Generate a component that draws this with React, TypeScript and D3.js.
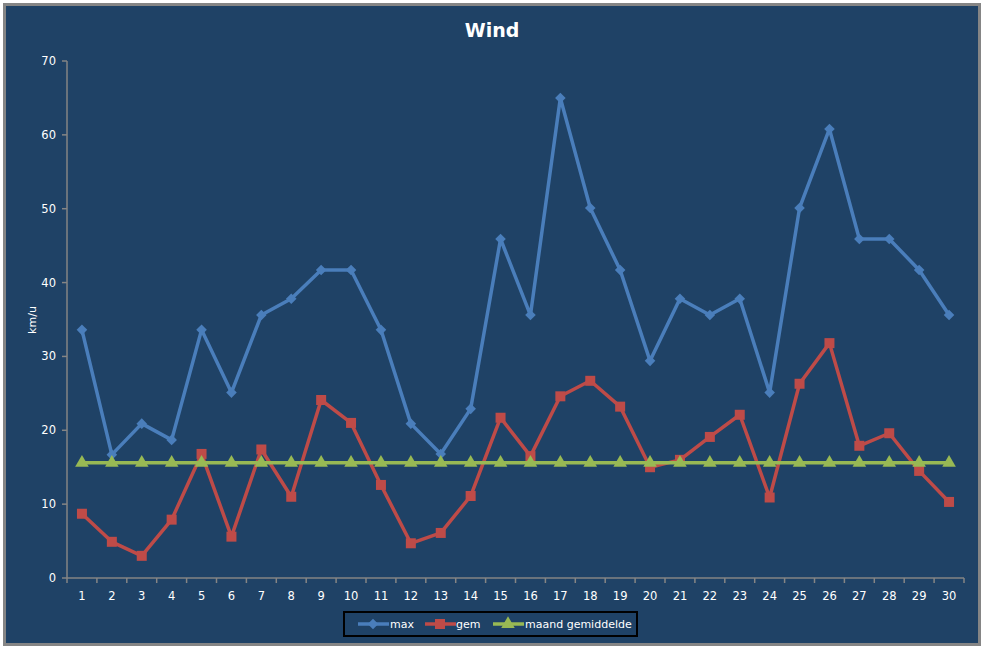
import React from 'react';
import * as d3 from 'd3';

const days = d3.range(1, 31).map(String);

const maxWind = [
  33.6, 16.7, 20.9, 18.7, 33.6, 25.1, 35.6, 37.8, 41.7, 41.7,
  33.6, 20.9, 16.8, 22.9, 45.9, 35.6, 65.0, 50.1, 41.7, 29.4,
  37.8, 35.6, 37.8, 25.1, 50.1, 60.8, 45.9, 45.9, 41.7, 35.6,
];

const gemWind = [
  8.7, 4.9, 3.0, 7.9, 16.8, 5.6, 17.4, 11.0, 24.1, 21.0,
  12.6, 4.7, 6.1, 11.1, 21.7, 16.5, 24.6, 26.7, 23.2, 15.0,
  16.0, 19.1, 22.1, 10.9, 26.3, 31.8, 17.9, 19.6, 14.5, 10.3,
];

const maandGem = [
  15.6, 15.6, 15.6, 15.6, 15.6, 15.6, 15.6, 15.6, 15.6, 15.6,
  15.6, 15.6, 15.6, 15.6, 15.6, 15.6, 15.6, 15.6, 15.6, 15.6,
  15.6, 15.6, 15.6, 15.6, 15.6, 15.6, 15.6, 15.6, 15.6, 15.6,
];

const yTicks = [0, 10, 20, 30, 40, 50, 60, 70];

const W = 987;
const H = 648;
const bg = '#1F4266';
const axisColor = '#858585';
const font = '"DejaVu Sans", Verdana, sans-serif';

const series = [
  { name: 'max', values: maxWind, color: '#4A7EBB', marker: 'diamond' },
  { name: 'gem', values: gemWind, color: '#BE4B48', marker: 'square' },
  { name: 'maand gemiddelde', values: maandGem, color: '#98B954', marker: 'triangle' },
];

// diamond is drawn as a square turned 45 degrees, like the spreadsheet marker
const symbolFor = (m: string) =>
  m === 'diamond'
    ? d3.symbol(d3.symbolSquare, 56)
    : m === 'square'
    ? d3.symbol(d3.symbolSquare, 100)
    : d3.symbol(d3.symbolTriangle, 80);

const rot = (m: string) => (m === 'diamond' ? ' rotate(45)' : '');

const App: React.FC = () => {
  const x = d3.scaleBand<string>().domain(days).range([67, 964]);
  const y = d3.scaleLinear().domain([0, 70]).range([578, 61]);
  const cx = (d: string) => (x(d) ?? 0) + x.bandwidth() / 2;

  const line = d3
    .line<number>()
    .x((_, i) => cx(days[i]))
    .y((v) => y(v));

  const legendItems = [
    { s: series[0], lx: 358, tx: 390 },
    { s: series[1], lx: 425, tx: 456 },
    { s: series[2], lx: 493, tx: 525 },
  ];

  return (
    <svg
      width={W}
      height={H}
      style={{ position: 'absolute', left: 0, top: 0, background: '#fff' }}
    >
      <rect x={4.5} y={4.5} width={975} height={640} fill={bg} stroke={axisColor} strokeWidth={3} />

      <text x={492} y={37} textAnchor="middle" fill="#fff" fontFamily={font} fontWeight="bold" fontSize={19}>
        Wind
      </text>

      <text
        transform="translate(36,320) rotate(-90)"
        textAnchor="middle"
        fill="#fff"
        fontFamily={font}
        fontSize={11}
      >
        km/u
      </text>

      {/* y axis */}
      <line x1={67} x2={67} y1={y(70)} y2={y(0)} stroke={axisColor} strokeWidth={1.5} />
      {yTicks.map((t) => (
        <g key={t}>
          <line x1={62} x2={67} y1={y(t)} y2={y(t)} stroke={axisColor} strokeWidth={1.5} />
          <text x={56} y={y(t) + 4} textAnchor="end" fill="#fff" fontFamily={font} fontSize={11.5}>
            {t}
          </text>
        </g>
      ))}

      {/* x axis */}
      <line x1={67} x2={964} y1={578} y2={578} stroke={axisColor} strokeWidth={1.5} />
      {d3.range(0, 31).map((i) => {
        const tx = 67 + i * x.step();
        return <line key={i} x1={tx} x2={tx} y1={578} y2={583} stroke={axisColor} strokeWidth={1.5} />;
      })}
      {days.map((d) => (
        <text key={d} x={cx(d)} y={600} textAnchor="middle" fill="#fff" fontFamily={font} fontSize={11.5}>
          {d}
        </text>
      ))}

      {/* series */}
      {series.map((s) => (
        <g key={s.name}>
          <path d={line(s.values) ?? ''} fill="none" stroke={s.color} strokeWidth={3.5} strokeLinejoin="round" />
          {s.values.map((v, i) => (
            <path
              key={i}
              d={symbolFor(s.marker)() ?? ''}
              transform={`translate(${cx(days[i])},${y(v)})${rot(s.marker)}`}
              fill={s.color}
            />
          ))}
        </g>
      ))}

      {/* legend */}
      <rect x={344} y={612} width={293} height={24} fill="none" stroke="#000" strokeWidth={2} />
      {legendItems.map(({ s, lx, tx }) => (
        <g key={s.name}>
          <line x1={lx} x2={lx + 31} y1={624} y2={624} stroke={s.color} strokeWidth={3.5} />
          <path
            d={symbolFor(s.marker)() ?? ''}
            transform={`translate(${lx + 15},624)${rot(s.marker)}`}
            fill={s.color}
          />
          <text x={tx} y={628} fill="#fff" fontFamily={font} fontSize={11}>
            {s.name}
          </text>
        </g>
      ))}
    </svg>
  );
};

export default App;
